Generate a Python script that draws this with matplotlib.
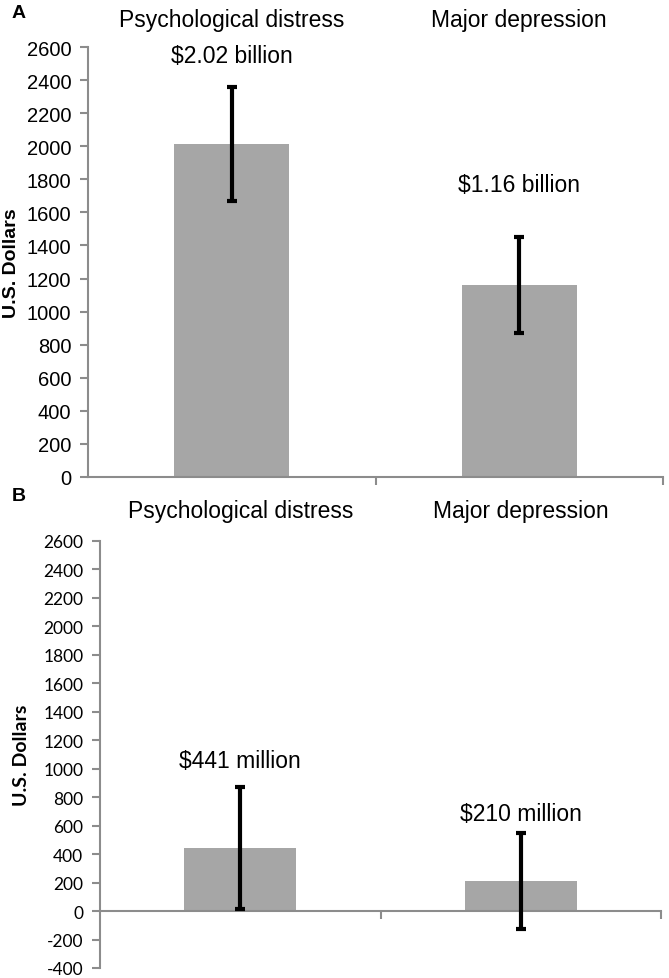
import matplotlib
matplotlib.use("Agg")
import matplotlib.pyplot as plt

plt.rcParams["axes.unicode_minus"] = False

# data
categories = ["Psychological distress", "Major depression"]
cost_a = [2015, 1161]          # panel A, U.S. dollars (millions)
err_a = [345, 290]
labels_a = ["$2.02 billion", "$1.16 billion"]
cost_b = [441, 211]            # panel B
err_b = [428, 340]
labels_b = ["$441 million", "$210 million"]

yticks_a = list(range(0, 2601, 200))
yticks_b = list(range(-400, 2601, 200))

W, H = 669, 979
fig = plt.figure(figsize=(W / 100, H / 100), dpi=100)

bar_color = "#a6a6a6"
axis_color = "#8c8c8c"
arial = "Liberation Sans"


def px_axes(left, top, right, bottom):
    return fig.add_axes([left / W, 1 - bottom / H, (right - left) / W, (bottom - top) / H])


def style(ax, tick_font, tick_size):
    for s in ["top", "right"]:
        ax.spines[s].set_visible(False)
    for s in ["left", "bottom"]:
        ax.spines[s].set_color(axis_color)
        ax.spines[s].set_linewidth(1.5)
    ax.tick_params(axis="y", colors=axis_color, length=6, width=1.5, pad=6,
                   labelcolor="black", labelsize=tick_size)
    ax.tick_params(axis="x", colors=axis_color, length=6, width=1.5,
                   labelbottom=False)
    for t in ax.get_yticklabels():
        t.set_fontfamily(tick_font)
    x = range(len(categories))
    ax.set_xlim(-0.5, len(categories) - 0.5)
    ax.set_xticks([i + 0.5 for i in x])


def panel(ax, values, errs, labels, label_y, cat_y, ticks, tick_font, tick_size,
          ylabel_font):
    x = list(range(len(categories)))
    ax.bar(x, values, width=0.4, color=bar_color, zorder=2)
    ax.errorbar(x, values, yerr=errs, fmt="none", ecolor="black", elinewidth=3,
                capsize=3.5, capthick=3, zorder=3)
    ax.set_ylim(ticks[0], ticks[-1])
    ax.set_yticks(ticks)
    style(ax, tick_font, tick_size)
    for i, (lab, ly) in enumerate(zip(labels, label_y)):
        ax.text(i, ly, lab, ha="center", va="center", fontsize=16.5, family=arial)
    for i, cat in enumerate(categories):
        ax.text(i, cat_y, cat, ha="center", va="center", fontsize=16.5,
                family=arial, transform=ax.get_xaxis_transform(), clip_on=False)
    ax.set_ylabel("U.S. Dollars", fontsize=14, fontweight="bold", family=ylabel_font)


# panel A
axA = px_axes(88, 48, 663, 478)
panel(axA, cost_a, err_a, labels_a, [2551, 1771], 1 + 28 / 430, yticks_a,
      arial, 14.5, arial)
axA.yaxis.set_label_coords(-68 / 575, 0.5)

# panel B
axB = px_axes(100, 542, 661, 969)
panel(axB, cost_b, err_b, labels_b, [1061, 682], 1 + 30 / 427, yticks_b,
      "Lato", 12.5, "Lato")
axB.spines["bottom"].set_position(("data", 0))
axB.yaxis.set_label_coords(-70 / 561, 0.5)

fig.text(12 / W, 1 - 14 / H, "A", fontsize=14, fontweight="bold", family=arial,
         va="center", ha="left")
fig.text(12 / W, 1 - 497 / H, "B", fontsize=14, fontweight="bold", family=arial,
         va="center", ha="left")

fig.savefig("out.png", dpi=100)
